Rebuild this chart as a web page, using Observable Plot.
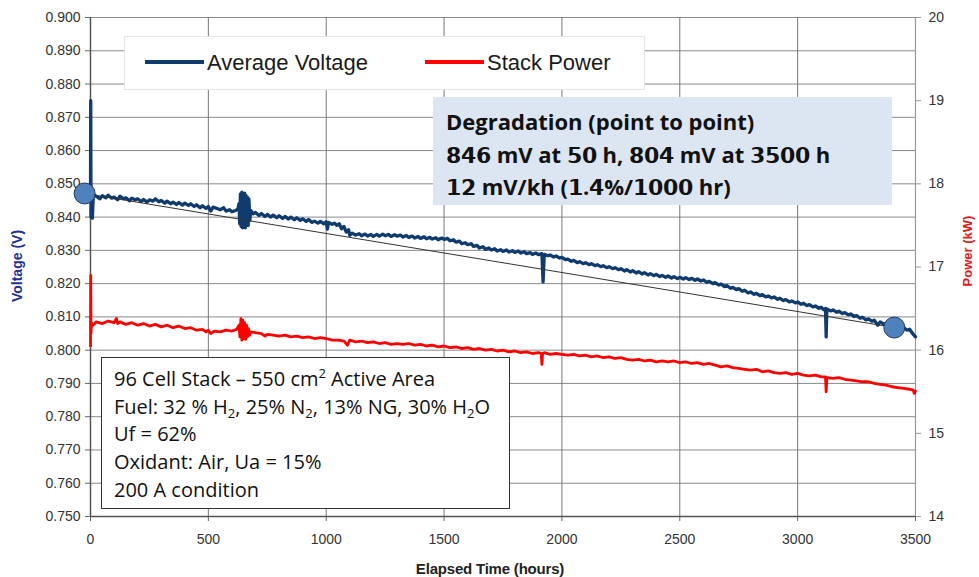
<!DOCTYPE html>
<html><head><meta charset="utf-8">
<script src="https://cdn.jsdelivr.net/npm/d3@7"></script>
<script src="https://cdn.jsdelivr.net/npm/@observablehq/plot@0.6"></script>
<style>
@font-face{font-family:"DegrMix";src:local("DejaVu Sans Bold"),local("DejaVuSans-Bold");font-weight:bold;unicode-range:U+0030-0039;}
body{margin:0;background:#fff;}
#wrap{position:relative;width:979px;height:577px;font-family:Arial,"Liberation Sans",sans-serif;overflow:hidden;}
#wrap svg{position:absolute;left:0;top:0;}
.ov{position:absolute;box-sizing:border-box;}
#legend{left:124px;top:36px;width:521px;height:54px;background:#fff;border:1px solid #e4e4e4;}
.leg{position:absolute;top:13px;font-size:22px;color:#1a1a1a;white-space:nowrap;}
.leg i{display:inline-block;width:59px;height:4px;vertical-align:middle;margin-right:3px;position:relative;top:-2px;}
#degr{left:433px;top:97px;width:459px;height:108px;background:#dce6f2;font-family:"DegrMix","Open Sans",sans-serif;font-weight:bold;font-size:22px;line-height:32.5px;color:#111;padding:8px 0 0 13px;white-space:nowrap;}
#info{left:101px;top:357px;width:409px;height:152px;background:#fff;border:1.5px solid #333;font-family:"Open Sans",sans-serif;font-size:20px;line-height:27.7px;color:#111;padding:7px 0 0 12px;white-space:nowrap;}
#info sub{font-size:13px;vertical-align:-4px;line-height:0;}
#info sup{font-size:13px;vertical-align:8px;line-height:0;}
.title{position:absolute;font-weight:bold;font-size:13px;white-space:nowrap;}
</style></head><body>
<div id="wrap"></div>
<script>
// ---- data ----
const xTicks = [0, 500, 1000, 1500, 2000, 2500, 3000, 3500];
const voltTicks = [0.750,0.760,0.770,0.780,0.790,0.800,0.810,0.820,0.830,0.840,0.850,0.860,0.870,0.880,0.890,0.900];
const powerTicks = [14, 15, 16, 17, 18, 19, 20];
const seriesNames = ["Average Voltage", "Stack Power"];
const seriesColors = ["#0f3b6f", "#ff0000"];

// [elapsed hours, average cell voltage (V)]
const voltage = [[0,0.8470],[1,0.8750],[2,0.8400],[4,0.8470],[8,0.8397],[12,0.8468],
[25,0.8462],[40,0.8455],[50,0.8464],[65,0.8458],[75,0.8466],[90,0.8457],[100,0.8460],[115,0.8452],[125,0.8463],[140,0.8455],[150,0.8458],[165,0.8449],[175,0.8457],[190,0.8452],[200,0.8455],[215,0.8447],[225,0.8453],[240,0.8445],[250,0.8452],[265,0.8448],[275,0.8455],[290,0.8446],[300,0.8450],[315,0.8442],[325,0.8448],[340,0.8440],[350,0.8445],[365,0.8438],[375,0.8444],[390,0.8436],[400,0.8442],[415,0.8435],[425,0.8440],[440,0.8432],[450,0.8437],[465,0.8428],[475,0.8434],[490,0.8426],[500,0.8432],[510,0.8418],[520,0.8430],[540,0.8425],[550,0.8422],[565,0.8428],[575,0.8418],[590,0.8422],[600,0.8416],[615,0.8420],[625,0.8424],
[630,0.8440],[633,0.8380],[636,0.8470],[639,0.8372],[642,0.8475],[645,0.8368],[648,0.8468],[651,0.8375],[654,0.8472],[657,0.8368],[660,0.8465],[663,0.8380],[666,0.8460],[669,0.8375],[672,0.8455],[676,0.8390],[680,0.8420],
[690,0.8410],[700,0.8414],[715,0.8405],[725,0.8411],[740,0.8402],[750,0.8408],[765,0.8400],[775,0.8406],[790,0.8398],[800,0.8404],[815,0.8396],[825,0.8402],[840,0.8394],[850,0.8400],[865,0.8392],[875,0.8398],[890,0.8390],[900,0.8395],[915,0.8387],[925,0.8393],[940,0.8384],[950,0.8388],[965,0.8382],[975,0.8387],[990,0.8380],[1000,0.8386],[1005,0.8364],[1010,0.8384],[1025,0.8378],[1035,0.8382],[1045,0.8375],[1055,0.8380],[1065,0.8365],[1075,0.8372],[1085,0.8355],[1095,0.8362],[1100,0.8345],[1110,0.8352],[1125,0.8346],[1140,0.8350],[1150,0.8344],[1165,0.8349],[1175,0.8343],[1190,0.8348],[1200,0.8342],[1215,0.8348],[1225,0.8343],[1240,0.8349],[1250,0.8344],[1265,0.8348],[1275,0.8342],[1290,0.8347],[1300,0.8343],[1315,0.8346],[1325,0.8340],[1340,0.8345],[1350,0.8339],[1365,0.8343],[1375,0.8337],[1390,0.8342],[1400,0.8336],[1415,0.8341],[1425,0.8335],[1440,0.8339],[1450,0.8334],[1465,0.8338],[1475,0.8332],[1490,0.8337],[1500,0.8333],[1515,0.8336],[1525,0.8329],[1540,0.8332],[1550,0.8325],[1565,0.8328],[1575,0.8320],[1590,0.8323],[1600,0.8317],[1615,0.8320],[1625,0.8312],[1640,0.8315],[1650,0.8307],[1665,0.8311],[1675,0.8303],[1690,0.8307],[1700,0.8301],[1715,0.8305],[1725,0.8298],[1740,0.8302],[1750,0.8297],[1765,0.8301],[1775,0.8295],[1790,0.8299],[1800,0.8294],[1815,0.8298],[1825,0.8292],[1840,0.8296],[1850,0.8290],[1865,0.8293],[1875,0.8288],[1890,0.8292],[1900,0.8287],[1915,0.8290],[1920,0.8205],[1925,0.8288],[1940,0.8284],[1950,0.8286],[1965,0.8280],[1975,0.8283],[1990,0.8277],[2000,0.8279],[2015,0.8272],[2025,0.8274],[2040,0.8267],[2050,0.8270],[2065,0.8263],[2075,0.8266],[2090,0.8260],[2100,0.8263],[2115,0.8257],[2125,0.8260],[2140,0.8254],[2150,0.8257],[2165,0.8251],[2175,0.8254],[2190,0.8248],[2200,0.8251],[2215,0.8245],[2225,0.8248],[2240,0.8242],[2250,0.8245],[2265,0.8238],[2275,0.8242],[2290,0.8235],[2300,0.8239],[2315,0.8232],[2325,0.8236],[2340,0.8229],[2350,0.8233],[2365,0.8226],[2375,0.8230],[2390,0.8224],[2400,0.8228],[2415,0.8221],[2425,0.8225],[2440,0.8219],[2450,0.8223],[2465,0.8217],[2475,0.8221],[2490,0.8215],[2500,0.8219],[2515,0.8214],[2525,0.8218],[2540,0.8212],[2550,0.8216],[2565,0.8210],[2575,0.8214],[2590,0.8208],[2600,0.8211],[2615,0.8204],[2625,0.8207],[2640,0.8200],[2650,0.8203],[2665,0.8196],[2675,0.8199],[2690,0.8191],[2700,0.8194],[2715,0.8186],[2725,0.8189],[2740,0.8182],[2750,0.8185],[2765,0.8177],[2775,0.8180],[2790,0.8172],[2800,0.8175],[2815,0.8168],[2825,0.8171],[2840,0.8164],[2850,0.8167],[2865,0.8160],[2875,0.8163],[2890,0.8157],[2900,0.8160],[2915,0.8153],[2925,0.8156],[2940,0.8149],[2950,0.8152],[2965,0.8145],[2975,0.8148],[2990,0.8142],[3000,0.8145],[3015,0.8138],[3025,0.8141],[3040,0.8134],[3050,0.8137],[3065,0.8130],[3075,0.8133],[3090,0.8126],[3100,0.8129],[3110,0.8122],[3118,0.8125],[3121,0.8040],[3124,0.8124],[3140,0.8118],[3150,0.8121],[3165,0.8114],[3175,0.8117],[3190,0.8110],[3200,0.8113],[3215,0.8106],[3225,0.8109],[3240,0.8101],[3250,0.8104],[3265,0.8096],[3275,0.8099],[3290,0.8091],[3300,0.8094],[3315,0.8087],[3325,0.8090],[3340,0.8075],[3350,0.8085],[3365,0.8078],[3375,0.8081],[3390,0.8074],[3400,0.8077],[3415,0.8070],[3425,0.8073],[3440,0.8066],[3450,0.8068],[3465,0.8060],[3475,0.8063],[3490,0.8048],[3500,0.8040]];

// [elapsed hours, stack power (kW)]
const power = [[0,16.05],[1,16.90],[2,16.20],[4,16.33],[10,16.30],[25,16.34],[50,16.32],[75,16.35],[100,16.33],[110,16.38],[115,16.32],[125,16.34],[150,16.31],[175,16.33],[200,16.30],[225,16.32],[250,16.29],[275,16.31],[300,16.28],[325,16.30],[350,16.27],[375,16.29],[400,16.26],[425,16.27],[450,16.24],[475,16.25],[490,16.22],[500,16.24],[510,16.20],[525,16.23],[550,16.22],[575,16.24],[600,16.23],[620,16.25],
[630,16.30],[634,16.16],[638,16.38],[642,16.12],[646,16.36],[650,16.14],[654,16.33],[658,16.13],[662,16.30],[666,16.16],[670,16.26],[675,16.18],[680,16.22],
[700,16.21],[725,16.20],[740,16.17],[750,16.19],[775,16.18],[800,16.17],[825,16.18],[850,16.16],[875,16.17],[900,16.15],[925,16.16],[950,16.14],[975,16.15],[1000,16.14],[1025,16.12],[1050,16.12],[1075,16.11],[1090,16.06],[1100,16.12],[1125,16.10],[1150,16.11],[1175,16.09],[1200,16.10],[1225,16.08],[1250,16.09],[1275,16.07],[1300,16.08],[1325,16.07],[1350,16.08],[1375,16.06],[1400,16.07],[1425,16.05],[1450,16.06],[1475,16.04],[1500,16.05],[1525,16.03],[1550,16.04],[1575,16.02],[1600,16.03],[1625,16.01],[1650,16.02],[1675,16.00],[1700,16.01],[1725,15.99],[1750,16.00],[1775,15.98],[1800,15.99],[1825,15.97],[1850,15.98],[1875,15.96],[1900,15.97],[1912,15.96],[1915,15.83],[1918,15.96],[1925,15.97],[1950,15.95],[1975,15.96],[2000,15.95],[2025,15.94],[2050,15.95],[2075,15.93],[2100,15.94],[2125,15.92],[2150,15.93],[2175,15.91],[2200,15.92],[2225,15.90],[2250,15.91],[2275,15.89],[2300,15.88],[2325,15.89],[2350,15.87],[2375,15.88],[2400,15.86],[2425,15.87],[2450,15.86],[2475,15.87],[2500,15.85],[2525,15.86],[2550,15.84],[2575,15.85],[2600,15.83],[2625,15.84],[2650,15.82],[2675,15.80],[2700,15.81],[2725,15.79],[2750,15.78],[2775,15.77],[2800,15.76],[2825,15.77],[2850,15.74],[2875,15.75],[2900,15.73],[2925,15.72],[2950,15.73],[2975,15.71],[3000,15.72],[3025,15.70],[3050,15.69],[3075,15.70],[3100,15.68],[3118,15.68],[3121,15.50],[3124,15.67],[3150,15.66],[3175,15.67],[3200,15.65],[3225,15.64],[3250,15.63],[3275,15.62],[3300,15.62],[3325,15.60],[3350,15.59],[3375,15.58],[3400,15.56],[3425,15.55],[3450,15.54],[3475,15.53],[3490,15.52],[3495,15.48],[3500,15.51]];

// point-to-point degradation markers [hours, V]
const endpoints = [[-25, 0.8471], [3410, 0.8068]];

// ---- scale mapping for the secondary (power) axis ----
const vMin = 0.75, vMax = 0.90, pMin = 14, pMax = 20;
const kwToV = kw => vMin + (kw - pMin) * (vMax - vMin) / (pMax - pMin);
const vToKw = v => Math.round(pMin + (v - vMin) * (pMax - pMin) / (vMax - vMin));

const chart = Plot.plot({
  width: 979, height: 577,
  marginLeft: 90, marginRight: 64, marginTop: 17, marginBottom: 61,
  x: {domain: [0, 3500]},
  y: {domain: [vMin, vMax]},
  style: {fontFamily: "Arial, 'Liberation Sans', sans-serif", fontSize: "14px", color: "#333", background: "white", overflow: "visible"},
  marks: [
    Plot.gridY(voltTicks, {stroke: "#8a8a8a", strokeOpacity: 1}),
    Plot.gridX(xTicks, {stroke: "#777", strokeOpacity: 1}),
    Plot.axisY({ticks: voltTicks, tickFormat: d3.format(".3f"), tickSize: 5, tickPadding: 5, label: null, stroke: "#666"}),
    Plot.axisY({anchor: "right", ticks: powerTicks.map(kwToV), tickFormat: vToKw, tickSize: 5, tickPadding: 8, label: null, stroke: "#999"}),
    Plot.axisX({ticks: xTicks, tickFormat: d => String(d), tickSize: 5, tickPadding: 13, label: null, stroke: "#666", fontSize: 14}),
    Plot.ruleX([0], {stroke: "#555", strokeWidth: 1.5}),
    Plot.ruleX([3500], {stroke: "#999", strokeWidth: 1.2}),
    Plot.ruleY([vMin], {stroke: "#555", strokeWidth: 1.5}),
    Plot.line(power, {x: d => d[0], y: d => kwToV(d[1]), stroke: seriesColors[1], strokeWidth: 2.8, strokeLinejoin: "round"}),
    Plot.line(voltage, {x: d => d[0], y: d => d[1], stroke: seriesColors[0], strokeWidth: 3.3, strokeLinejoin: "round"}),
    Plot.line(endpoints, {x: d => d[0], y: d => d[1], stroke: "#333", strokeWidth: 1}),
    Plot.dot(endpoints, {x: d => d[0], y: d => d[1], r: 10.5, fill: "#4f81bd", stroke: "#1f3864", strokeWidth: 1})
  ]
});

const wrap = document.getElementById("wrap");
wrap.appendChild(chart);

function addDiv(id, cls, html, style) {
  const d = document.createElement("div");
  if (id) d.id = id;
  d.className = cls;
  d.innerHTML = html;
  if (style) d.setAttribute("style", style);
  wrap.appendChild(d);
  return d;
}

// legend
addDiv("legend", "ov",
  `<span class="leg" style="left:20px"><i style="background:${seriesColors[0]}"></i>${seriesNames[0]}</span>` +
  `<span class="leg" style="left:300px"><i style="background:${seriesColors[1]}"></i>${seriesNames[1]}</span>`);

// annotation boxes
addDiv("degr", "ov", "Degradation (point to point)<br>846 mV at 50 h, 804 mV at 3500 h<br>12 mV/kh (1.4%/1000 hr)");
addDiv("info", "ov",
  "96 Cell Stack – 550 cm<sup>2</sup> Active Area<br>" +
  "Fuel: 32 % H<sub>2</sub>, 25% N<sub>2</sub>, 13% NG, 30% H<sub>2</sub>O<br>" +
  "Uf = 62%<br>Oxidant: Air, Ua = 15%<br>200 A condition");

// axis titles
addDiv(null, "title", "Voltage (V)", "left:17px;top:266px;font-size:14px;color:#23308f;transform:translate(-50%,-50%) rotate(-90deg);");
addDiv(null, "title", "Power (kW)", "left:967px;top:251px;color:#e31a1a;transform:translate(-50%,-50%) rotate(-90deg);");
addDiv(null, "title", "Elapsed Time (hours)", "left:490px;top:568px;color:#222;transform:translate(-50%,-50%);font-size:15px;letter-spacing:-0.2px;");
</script>
</body></html>
